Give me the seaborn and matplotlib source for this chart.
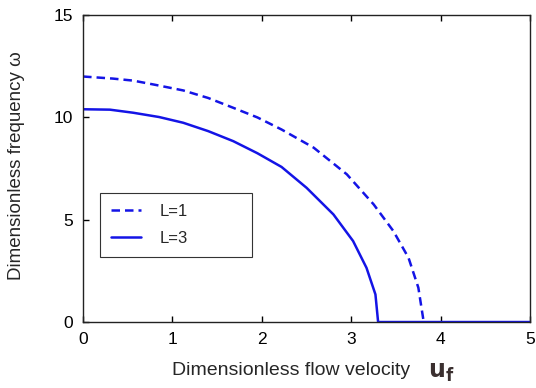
import matplotlib
matplotlib.use('Agg')
from matplotlib import pyplot as plt
import seaborn as sns
import pandas as pd

# values
u_L1 = [0, 0.33, 0.56, 0.8, 1.12, 1.4, 1.68, 1.95, 2.22, 2.58, 2.95, 3.25, 3.47, 3.64, 3.75, 3.81]
w_L1 = [12.0, 11.9, 11.8, 11.6, 11.32, 10.95, 10.47, 10.0, 9.41, 8.52, 7.22, 5.75, 4.45, 3.14, 1.68, 0.0]

u_L3 = [0, 0.3, 0.56, 0.85, 1.12, 1.4, 1.68, 1.95, 2.22, 2.5, 2.8, 3.02, 3.17, 3.27, 3.30, 5.0]
w_L3 = [10.4, 10.38, 10.23, 10.02, 9.74, 9.33, 8.84, 8.25, 7.58, 6.56, 5.26, 3.96, 2.65, 1.35, 0.0, 0.0]

x_ticks = [0, 1, 2, 3, 4, 5]
y_ticks = [0, 5, 10, 15]

df1 = pd.DataFrame({'u': u_L1, 'w': w_L1})
df3 = pd.DataFrame({'u': u_L3, 'w': w_L3})

sns.set_style('ticks')
plt.rcParams['font.family'] = ['Liberation Sans', 'DejaVu Sans']

fig = plt.figure(figsize=(5.36, 3.88), dpi=100)
ax = fig.add_axes([0.155, 0.170, 0.834, 0.791])

blue = '#1414e6'
sns.lineplot(data=df1, x='u', y='w', ax=ax, color=blue, lw=1.8,
             linestyle=(0, (3.4, 2.0)), sort=False, label='L=1')
sns.lineplot(data=df3, x='u', y='w', ax=ax, color=blue, lw=1.8,
             sort=False, label='L=3')

ax.set_xlim(0, 5)
ax.set_ylim(0, 15)
ax.set_xticks(x_ticks)
ax.set_yticks(y_ticks)
ax.tick_params(direction='in', length=4, width=1, top=True, right=False,
               labelsize=12.5, colors='black', pad=7)
for s in ax.spines.values():
    s.set_visible(True)
    s.set_linewidth(1.0)
    s.set_color('#222222')

ax.set_xlabel('')
ax.set_ylabel('')
ax.text(0.465, -0.158, 'Dimensionless flow velocity', transform=ax.transAxes,
        ha='center', va='center', fontsize=14)
ax.text(0.772, -0.165, r'$\mathbf{u_f}$', transform=ax.transAxes,
        ha='left', va='center', fontsize=17, color='#3b3030')
ax.text(-0.15, 0.51, 'Dimensionless frequency ω', transform=ax.transAxes,
        ha='center', va='center', rotation=90, fontsize=13.5)

leg = ax.legend(loc='lower left', bbox_to_anchor=(0.038, 0.212, 0.34, 0.2),
                mode='expand', borderaxespad=0,
                fontsize=12, handlelength=1.8, handletextpad=1.1,
                labelspacing=0.75, borderpad=0.65, fancybox=False, framealpha=1)
leg.get_frame().set_edgecolor('#333333')
leg.get_frame().set_linewidth(0.8)

fig.savefig('out.png', dpi=100)
